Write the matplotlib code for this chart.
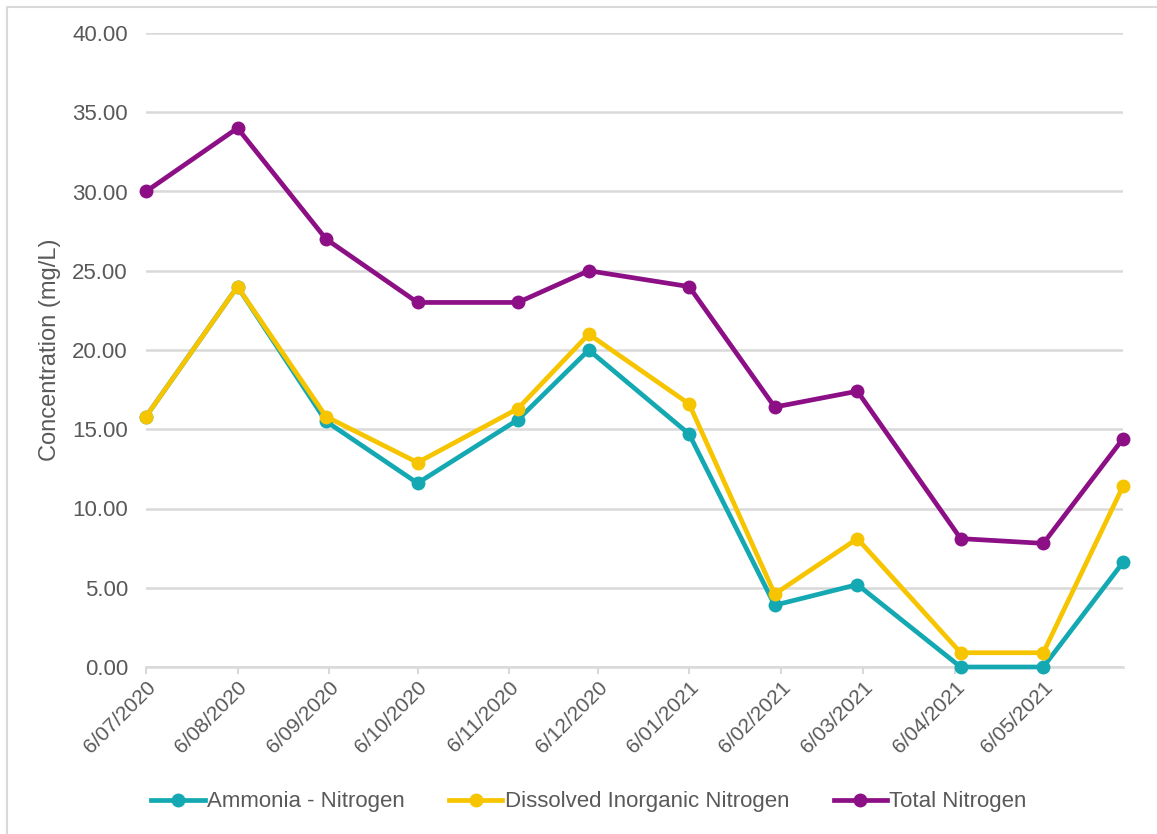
import datetime as dt

import matplotlib
matplotlib.use("Agg")
import matplotlib.pyplot as plt
import matplotlib.dates as mdates
import matplotlib.ticker as mticker
from matplotlib.lines import Line2D

# sampling dates (d/mm/yyyy on the axis)
sample_dates = [
    dt.date(2020, 7, 6), dt.date(2020, 8, 6), dt.date(2020, 9, 5),
    dt.date(2020, 10, 6), dt.date(2020, 11, 9), dt.date(2020, 12, 3),
    dt.date(2021, 1, 6), dt.date(2021, 2, 4), dt.date(2021, 3, 4),
    dt.date(2021, 4, 8), dt.date(2021, 5, 6), dt.date(2021, 6, 2),
]
ammonia = [15.8, 24.0, 15.5, 11.6, 15.6, 20.0, 14.7, 3.9, 5.2, 0.0, 0.0, 6.6]
din = [15.8, 24.0, 15.8, 12.9, 16.3, 21.0, 16.6, 4.6, 8.1, 0.9, 0.9, 11.4]
total_n = [30.0, 34.0, 27.0, 23.0, 23.0, 25.0, 24.0, 16.4, 17.4, 8.1, 7.8, 14.4]

series_names = ["Ammonia - Nitrogen", "Dissolved Inorganic Nitrogen", "Total Nitrogen"]
series_colors = ["#14A9B2", "#F6C500", "#8C0F86"]

TEXT = "#595959"
GRID = "#D9D9D9"
plt.rcParams["font.family"] = ["Liberation Sans", "DejaVu Sans"]

fig = plt.figure(figsize=(11.57, 8.34), dpi=100)
# screenshot frame: only top and left edges show
fig.lines.append(Line2D([0.006, 0.006, 1.0], [0.0, 0.992, 0.992], transform=fig.transFigure,
                        color=GRID, lw=1.5))
ax = fig.add_axes([146 / 1157, 1 - 667 / 834, (1123 - 146) / 1157, (667 - 33) / 834])

for vals, name, col in zip([ammonia, din, total_n], series_names, series_colors):
    ax.plot(sample_dates, vals, color=col, lw=3.4, marker="o", ms=9,
            label=name, clip_on=False, zorder=3)

ax.set_ylim(0, 40)
ax.set_xlim(sample_dates[0], sample_dates[-1])
ax.yaxis.set_major_locator(mticker.MultipleLocator(5))
ax.yaxis.set_major_formatter(mticker.FormatStrFormatter("%.2f"))
ax.grid(axis="y", color=GRID, lw=1.8)
ax.set_axisbelow(True)

ax.xaxis.set_major_locator(mdates.MonthLocator(bymonthday=6))
ax.xaxis.set_major_formatter(mticker.FuncFormatter(
    lambda x, pos: (lambda d: f"{d.day}/{d.month:02d}/{d.year}")(mdates.num2date(x))))

for side in ["top", "right", "left"]:
    ax.spines[side].set_visible(False)
ax.spines["bottom"].set_color(GRID)
ax.spines["bottom"].set_linewidth(1.8)

ax.tick_params(axis="y", length=0, pad=13, labelsize=16, labelcolor=TEXT)
ax.tick_params(axis="x", length=5, width=1.5, color=GRID, pad=3, labelsize=15, labelcolor=TEXT)
for lab in ax.get_xticklabels():
    lab.set_rotation(45)
    lab.set_ha("right")
    lab.set_rotation_mode("anchor")

ax.set_ylabel("Concentration (mg/L)", fontsize=17, color=TEXT, labelpad=8)

fig.legend(loc="center", bbox_to_anchor=(589 / 1157, 1 - 802 / 834), ncol=3, frameon=False,
           fontsize=16, labelcolor=TEXT, handlelength=2.4, handletextpad=0.1, columnspacing=2.0)

fig.savefig("out.png", dpi=100)
